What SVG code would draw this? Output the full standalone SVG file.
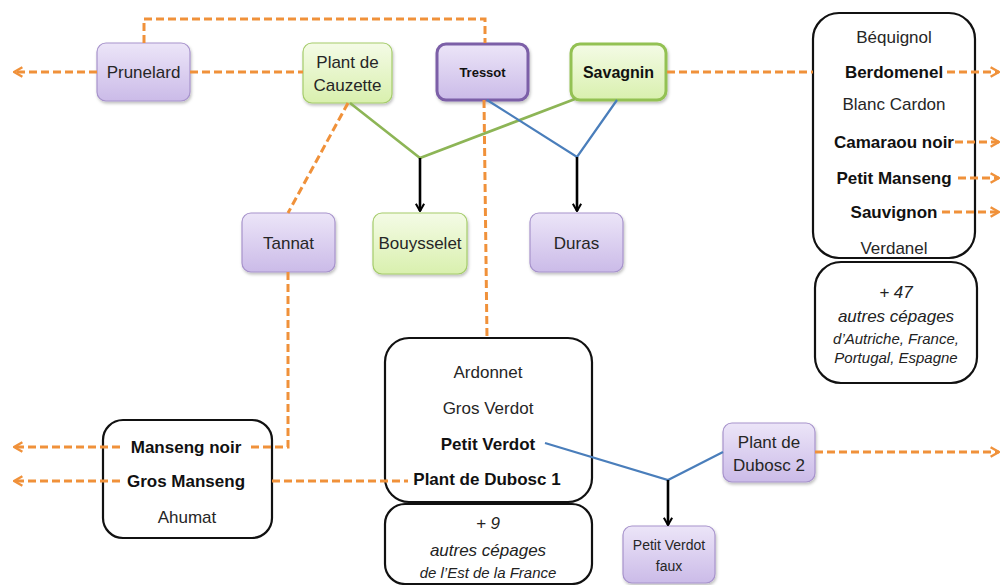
<svg xmlns="http://www.w3.org/2000/svg" width="1001" height="585" viewBox="0 0 1001 585">
  <defs>
    <linearGradient id="gPurple" x1="0" y1="0" x2="0" y2="1">
      <stop offset="0" stop-color="#ece5f8"/>
      <stop offset="1" stop-color="#cbbbe8"/>
    </linearGradient>
    <linearGradient id="gGreen" x1="0" y1="0" x2="0" y2="1">
      <stop offset="0" stop-color="#f4fbe6"/>
      <stop offset="1" stop-color="#d9f0ae"/>
    </linearGradient>
    <filter id="shadow" x="-20%" y="-20%" width="140%" height="150%">
      <feDropShadow dx="1" dy="2" stdDeviation="1.5" flood-color="#000" flood-opacity="0.25"/>
    </filter>
    <marker id="arrOrange" viewBox="0 0 10 10" refX="9" refY="5" markerWidth="4" markerHeight="4" orient="auto" markerUnits="strokeWidth">
      <polyline points="2,1 9,5 2,9" fill="none" stroke="#f0913a" stroke-width="2"/>
    </marker>
    <marker id="arrBlack" viewBox="0 0 10 10" refX="9" refY="5" markerWidth="4" markerHeight="4" orient="auto" markerUnits="strokeWidth">
      <polyline points="2,1 9,5 2,9" fill="none" stroke="#000" stroke-width="2"/>
    </marker>
  </defs>
  <style>
    text { font-family: "Liberation Sans", Arial, sans-serif; font-size: 17px; fill: #262626; text-anchor: middle; dominant-baseline: central; }
    .b { font-weight: bold; fill: #111; }
    .it { font-style: italic; fill: #222; }
    .purple { fill: url(#gPurple); stroke: #a793cc; stroke-width: 1.2; filter: url(#shadow); }
    .green { fill: url(#gGreen); stroke: #a5cc6b; stroke-width: 1.2; filter: url(#shadow); }
    .list { fill: #fff; stroke: #111; stroke-width: 2.2; }
    .dash { fill: none; stroke: #f0913a; stroke-width: 3; stroke-dasharray: 8 4; }
    .blue { fill: none; stroke: #4a7ebb; stroke-width: 2.2; }
    .grn { fill: none; stroke: #8db556; stroke-width: 2.6; }
    .down { fill: none; stroke: #000; stroke-width: 2.6; marker-end: url(#arrBlack); }
  </style>
  <rect width="1001" height="585" fill="#fff"/>

  <!-- top row -->
  <g id="prunelard">
    <rect class="purple" x="97" y="43" width="93" height="58" rx="9"/>
    <text x="143.5" y="72">Prunelard</text>
  </g>
  <g id="plant-de-cauzette">
    <rect class="green" x="303" y="43" width="89" height="60" rx="9"/>
    <text x="347.5" y="62">Plant de</text>
    <text x="347.5" y="85">Cauzette</text>
  </g>
  <g id="tressot">
    <rect x="437" y="44" width="91" height="56" rx="9" fill="url(#gPurple)" stroke="#7b5ea7" stroke-width="3" filter="url(#shadow)"/>
    <text class="b" x="482.5" y="72" style="font-size:13px">Tressot</text>
  </g>
  <g id="savagnin">
    <rect x="571" y="44" width="95" height="56" rx="9" fill="url(#gGreen)" stroke="#93c152" stroke-width="3" filter="url(#shadow)"/>
    <text class="b" x="618.5" y="72" style="font-size:16px">Savagnin</text>
  </g>

  <!-- middle row -->
  <g id="tannat">
    <rect class="purple" x="242" y="213" width="93" height="59" rx="9"/>
    <text x="288.5" y="243">Tannat</text>
  </g>
  <g id="bouysselet">
    <rect class="green" x="373" y="213" width="94" height="61" rx="9"/>
    <text x="420" y="243">Bouysselet</text>
  </g>
  <g id="duras">
    <rect class="purple" x="530" y="213" width="93" height="59" rx="9"/>
    <text x="576.5" y="243">Duras</text>
  </g>

  <!-- right group list -->
  <g id="group-bequignol">
    <rect class="list" x="813" y="13" width="162" height="245" rx="26"/>
    <text x="894" y="37">Béquignol</text>
    <text class="b" x="894" y="72">Berdomenel</text>
    <text x="894" y="104">Blanc Cardon</text>
    <text class="b" x="894" y="142">Camaraou noir</text>
    <text class="b" x="894" y="178">Petit Manseng</text>
    <text class="b" x="894" y="212">Sauvignon</text>
    <text x="894" y="248">Verdanel</text>
  </g>
  <g id="group-bequignol-more">
    <rect class="list" x="815" y="262" width="162" height="121" rx="26"/>
    <text class="it" x="896" y="292">+ 47</text>
    <text class="it" x="896" y="316">autres cépages</text>
    <text class="it" x="896" y="338" style="font-size:15px">d’Autriche, France,</text>
    <text class="it" x="896" y="357" style="font-size:15px">Portugal, Espagne</text>
  </g>

  <!-- left group list -->
  <g id="group-manseng">
    <rect class="list" x="103" y="420" width="169" height="118" rx="20"/>
    <text class="b" x="186" y="447">Manseng noir</text>
    <text class="b" x="186" y="481">Gros Manseng</text>
    <text x="187" y="517">Ahumat</text>
  </g>

  <!-- centre group list -->
  <g id="group-ardonnet">
    <rect class="list" x="385" y="338" width="207" height="164" rx="24"/>
    <text x="488" y="372">Ardonnet</text>
    <text x="488" y="408">Gros Verdot</text>
    <text class="b" x="488" y="444">Petit Verdot</text>
    <text class="b" x="487" y="479">Plant de Dubosc 1</text>
  </g>
  <g id="group-ardonnet-more">
    <rect class="list" x="385" y="504" width="207" height="80" rx="20"/>
    <text class="it" x="488" y="523">+ 9</text>
    <text class="it" x="488" y="550">autres cépages</text>
    <text class="it" x="488" y="572" style="font-size:15px">de l’Est de la France</text>
  </g>

  <!-- bottom right -->
  <g id="plant-de-dubosc-2">
    <rect class="purple" x="723" y="423" width="92" height="59" rx="9"/>
    <text x="769" y="442">Plant de</text>
    <text x="769" y="465">Dubosc 2</text>
  </g>
  <g id="petit-verdot-faux">
    <rect class="purple" x="623" y="526" width="92" height="57" rx="9"/>
    <text x="669" y="545" style="font-size:14px">Petit Verdot</text>
    <text x="669" y="566" style="font-size:14px">faux</text>
  </g>

  <!-- connectors, drawn last so they pass over the list boxes -->
  <g id="connectors">
    <!-- orange dashed relations -->
    <polyline class="dash" points="144,43 144,19 485,19 485,43"/>
    <line class="dash" x1="97" y1="72" x2="14" y2="72" marker-end="url(#arrOrange)"/>
    <line class="dash" x1="190" y1="72" x2="303" y2="72"/>
    <line class="dash" x1="667" y1="72" x2="813" y2="72"/>
    <line class="dash" x1="947" y1="72" x2="999" y2="72" marker-end="url(#arrOrange)"/>
    <line class="dash" x1="955" y1="142" x2="999" y2="142" marker-end="url(#arrOrange)"/>
    <line class="dash" x1="958" y1="178" x2="999" y2="178" marker-end="url(#arrOrange)"/>
    <line class="dash" x1="942" y1="212" x2="999" y2="212" marker-end="url(#arrOrange)"/>
    <line class="dash" x1="348" y1="103" x2="288" y2="213"/>
    <line class="dash" x1="484" y1="100" x2="487" y2="338"/>
    <polyline class="dash" points="288,272 288,447 250,447"/>
    <line class="dash" x1="120" y1="447" x2="14" y2="447" marker-end="url(#arrOrange)"/>
    <line class="dash" x1="120" y1="481" x2="14" y2="481" marker-end="url(#arrOrange)"/>
    <line class="dash" x1="272" y1="481" x2="408" y2="481"/>
    <line class="dash" x1="815" y1="452" x2="999" y2="452" marker-end="url(#arrOrange)"/>

    <!-- parentage: green (Bouysselet) -->
    <polyline class="grn" points="350,103 420,158 575,99"/>
    <line class="down" x1="420" y1="158" x2="420" y2="211"/>
    <!-- parentage: blue (Duras) -->
    <polyline class="blue" points="487,100 577,157 617,100"/>
    <line class="down" x1="577" y1="157" x2="577" y2="211"/>
    <!-- parentage: blue (Petit Verdot faux) -->
    <polyline class="blue" points="545,443 668,480 723,452"/>
    <line class="down" x1="668" y1="480" x2="668" y2="525"/>
  </g>
</svg>
